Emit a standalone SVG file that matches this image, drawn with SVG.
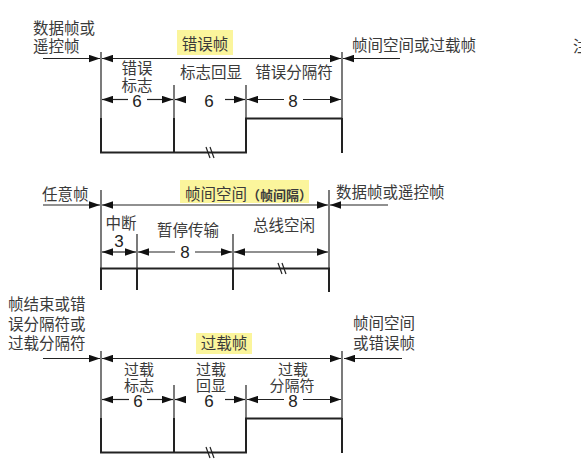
<svg xmlns="http://www.w3.org/2000/svg" width="581" height="465" viewBox="0 0 581 465">
<style>
text{font-family:"Noto Sans CJK SC","Liberation Sans",sans-serif;font-size:15.5px;fill:#3a3a3a}
.c{text-anchor:middle}
.s{font-size:15px}
.n{font-family:"Liberation Sans",Arial,sans-serif;font-size:17px;text-anchor:middle;fill:#222}
.t{stroke:#222;stroke-width:1.2;fill:none}
.a{stroke:#222;stroke-width:1.2;fill:none;marker-end:url(#ah)}
.w{stroke:#222;stroke-width:2;fill:none}
.hl{fill:#fbf59c}
</style>
<defs>
<marker id="ah" markerUnits="userSpaceOnUse" markerWidth="11" markerHeight="8" refX="11" refY="4" orient="auto"><path d="M0,0.3 L11,4 L0,7.7 z" fill="#111"/></marker>
</defs>
<rect width="581" height="465" fill="#fff"/>
<text x="573" y="52">注</text>

<!-- Section 1: error frame -->
<g id="errorFrame">
<rect class="hl" x="177" y="30" width="56" height="25"/>
<text class="c" x="205" y="50">错误帧</text>
<text x="33" y="33.5">数据帧或<tspan x="33" dy="18">遥控帧</tspan></text>
<text x="352" y="50.5">帧间空间或过载帧</text>
</g>
<g id="errorFlag"><text class="c" x="137" y="74">错误<tspan x="137" dy="17">标志</tspan><tspan class="n" x="137" dy="15.5">6</tspan></text></g>
<g id="errorEcho"><text class="c" x="211" y="78">标志回显</text><text class="n" x="209" y="106.5">6</text></g>
<g id="errorDelim"><text class="c" x="294" y="78">错误分隔符</text><text class="n" x="293" y="106.5">8</text></g>

<!-- Section 2: interframe space -->
<g id="interFrame">
<rect class="hl" x="180" y="180" width="129" height="23"/>
<text x="185" y="200">帧间空间<tspan font-size="13" font-weight="bold">（帧间隔）</tspan></text>
<text x="42" y="200">任意帧</text>
<text x="336" y="197.5">数据帧或遥控帧</text>
</g>
<g id="intermission"><text class="c" x="121" y="229">中断<tspan class="n" x="119" dy="18">3</tspan></text></g>
<g id="suspend"><text class="c" x="188" y="236">暂停传输</text><text class="n" x="185" y="258">8</text></g>
<g id="busIdle"><text class="c" x="284" y="231">总线空闲</text></g>

<!-- Section 3: overload frame -->
<g id="overloadFrame">
<rect class="hl" x="196" y="333" width="56" height="21"/>
<text class="c" x="224" y="349">过载帧</text>
<text x="8" y="310">帧结束或错<tspan x="8" dy="20">误分隔符或</tspan><tspan x="8" dy="19">过载分隔符</tspan></text>
<text x="353" y="329">帧间空间<tspan x="353" dy="20">或错误帧</tspan></text>
</g>
<g id="overloadFlag"><text class="c s" x="139" y="375">过载<tspan x="139" dy="16">标志</tspan><tspan class="n" x="138" dy="16">6</tspan></text></g>
<g id="overloadEcho"><text class="c s" x="211" y="375">过载<tspan x="211" dy="16">回显</tspan><tspan class="n" x="209" dy="16">6</tspan></text></g>
<g id="overloadDelim"><text class="c s" x="293" y="375">过载<tspan x="292" dy="16">分隔符</tspan><tspan class="n" x="293" dy="16">8</tspan></text></g>

<g id="connectors">
<!-- section 1 -->
<line class="a" x1="43" y1="58.5" x2="100" y2="58.5"/>
<line class="a" x1="200" y1="58.5" x2="102" y2="58.5"/>
<line class="a" x1="200" y1="58.5" x2="341" y2="58.5"/>
<line class="a" x1="400" y1="58.5" x2="343" y2="58.5"/>
<line class="t" x1="101" y1="52" x2="101" y2="120"/>
<line class="t" x1="342" y1="52" x2="342" y2="120"/>
<line class="t" x1="174" y1="85" x2="174" y2="120"/>
<line class="t" x1="246" y1="85" x2="246" y2="120"/>
<line class="a" x1="128" y1="99.5" x2="102" y2="99.5"/>
<line class="a" x1="147" y1="99.5" x2="173" y2="99.5"/>
<line class="a" x1="186" y1="99.5" x2="175" y2="99.5"/>
<line class="a" x1="225" y1="99.5" x2="245" y2="99.5"/>
<line class="a" x1="284" y1="99.5" x2="247" y2="99.5"/>
<line class="a" x1="303" y1="99.5" x2="341" y2="99.5"/>
<path class="w" d="M101,118 V152.5 H246 V118.5 H342 M174,118 V152.5 M342,118 V153"/>
<path class="t" d="M206,147 L210,158 M210,147 L214,158"/>
<!-- section 2 -->
<line class="a" x1="43" y1="205" x2="100" y2="205"/>
<line class="a" x1="200" y1="205" x2="102" y2="205"/>
<line class="a" x1="200" y1="205" x2="328" y2="205"/>
<line class="a" x1="388" y1="205" x2="330" y2="205"/>
<line class="t" x1="101" y1="190" x2="101" y2="268"/>
<line class="t" x1="329" y1="190" x2="329" y2="268"/>
<line class="t" x1="137" y1="234" x2="137" y2="268"/>
<line class="t" x1="233" y1="234" x2="233" y2="268"/>
<line class="a" x1="119" y1="252" x2="102" y2="252"/>
<line class="a" x1="119" y1="252" x2="136" y2="252"/>
<line class="a" x1="175" y1="252" x2="138" y2="252"/>
<line class="a" x1="195" y1="252" x2="232" y2="252"/>
<line class="a" x1="280" y1="252" x2="234" y2="252"/>
<line class="a" x1="280" y1="252" x2="328" y2="252"/>
<path class="w" d="M101,290 V268.5 H329 V292 M137,268.5 V290 M233,268.5 V290"/>
<path class="t" d="M278,263 L282,274 M282,263 L286,274"/>
<!-- section 3 -->
<line class="a" x1="43" y1="358.5" x2="100" y2="358.5"/>
<line class="a" x1="200" y1="358.5" x2="102" y2="358.5"/>
<line class="a" x1="200" y1="358.5" x2="341" y2="358.5"/>
<line class="a" x1="402" y1="358.5" x2="344" y2="358.5"/>
<line class="t" x1="101" y1="351" x2="101" y2="420"/>
<line class="t" x1="342" y1="351" x2="342" y2="420"/>
<line class="t" x1="174" y1="385" x2="174" y2="420"/>
<line class="t" x1="246" y1="385" x2="246" y2="420"/>
<line class="a" x1="129" y1="399.5" x2="102" y2="399.5"/>
<line class="a" x1="147" y1="399.5" x2="173" y2="399.5"/>
<line class="a" x1="186" y1="399.5" x2="175" y2="399.5"/>
<line class="a" x1="225" y1="399.5" x2="245" y2="399.5"/>
<line class="a" x1="284" y1="399.5" x2="247" y2="399.5"/>
<line class="a" x1="303" y1="399.5" x2="341" y2="399.5"/>
<path class="w" d="M101,418 V452.5 H246 V418.5 H342 M174,418 V452.5 M342,418 V453"/>
<path class="t" d="M206,447 L210,458 M210,447 L214,458"/>
</g>
</svg>
